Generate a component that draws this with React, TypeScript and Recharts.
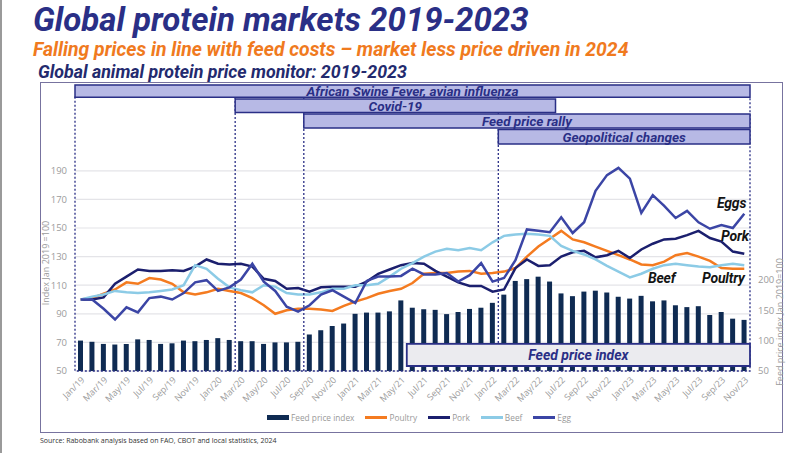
import {
  ComposedChart,
  Bar,
  Line,
  XAxis,
  YAxis,
  CartesianGrid,
  ReferenceArea,
  ReferenceLine,
  Legend,
} from 'recharts';

const months = [
  'Jan/19', 'Feb/19', 'Mar/19', 'Apr/19', 'May/19', 'Jun/19', 'Jul/19', 'Aug/19', 'Sep/19', 'Oct/19', 'Nov/19', 'Dec/19',
  'Jan/20', 'Feb/20', 'Mar/20', 'Apr/20', 'May/20', 'Jun/20', 'Jul/20', 'Aug/20', 'Sep/20', 'Oct/20', 'Nov/20', 'Dec/20',
  'Jan/21', 'Feb/21', 'Mar/21', 'Apr/21', 'May/21', 'Jun/21', 'Jul/21', 'Aug/21', 'Sep/21', 'Oct/21', 'Nov/21', 'Dec/21',
  'Jan/22', 'Feb/22', 'Mar/22', 'Apr/22', 'May/22', 'Jun/22', 'Jul/22', 'Aug/22', 'Sep/22', 'Oct/22', 'Nov/22', 'Dec/22',
  'Jan/23', 'Feb/23', 'Mar/23', 'Apr/23', 'May/23', 'Jun/23', 'Jul/23', 'Aug/23', 'Sep/23', 'Oct/23', 'Nov/23',
];

// feed price index (right axis)
const feedIndex = [
  100, 98, 94.5, 93.5, 94.5, 102, 101, 94.5, 95.5, 100, 99, 101,
  104, 101, 99, 99, 94.5, 97, 97, 98, 110, 117, 124, 128,
  144, 146, 146, 148, 166, 154, 151.5, 150.5, 143.5, 147, 152, 154,
  162, 175.5, 198, 201, 205, 197, 177.5, 173, 180.5, 182, 179, 172,
  169, 173.5, 164.5, 166, 158, 155, 156.5, 142, 147, 136, 134,
];

const poultry = [
  100, 101, 104, 107, 112, 111, 115, 114, 111, 105, 103.5, 105,
  107.5, 106, 104.5, 101, 96, 90, 92.5, 93.5, 93.5, 93, 92, 95.5,
  98.5, 101, 104, 106, 107.5, 111.5, 118, 118.5, 118.5, 119.5, 120, 118,
  118.5, 119.5, 122, 130, 137, 142.5, 148, 142, 140, 137, 134, 131,
  128, 124.5, 124, 126.5, 131, 132.5, 130, 127, 122, 121.5, 121.5,
];

const pork = [
  100, 100, 101.5, 111, 116, 121, 120, 120, 120.5, 120, 123, 128,
  125, 124.5, 125, 123, 114.5, 113, 107.5, 108, 105.5, 108.5, 109, 109,
  109, 112.5, 118, 121, 124, 125.5, 125, 120, 116, 112, 109.5, 109.5,
  105.5, 107, 122, 128, 123.5, 124, 130, 133, 134, 129.5, 131, 134,
  129, 135, 139, 142, 142.5, 145, 148, 143, 140.5, 133.5, 132,
];

const beef = [
  100, 102, 103.5, 106, 105, 104.5, 105, 106, 107, 110, 124, 121.5,
  114.5, 108.5, 106.5, 105, 110, 109, 104.5, 103.5, 103.5, 105, 107.5, 107.5,
  110, 110, 111, 116, 121.5, 125.5, 130, 133.5, 135.5, 134.5, 136, 134.5,
  140, 144.5, 145.5, 146, 145.5, 144.5, 137.5, 134, 131.5, 128, 123.5, 119.5,
  115.5, 118, 121.5, 124, 125, 124, 123, 122.5, 124, 125, 124,
];

const egg = [
  100, 100, 93.5, 86, 94.5, 91, 101, 102, 100, 104.5, 112, 113.5,
  106, 108.5, 114, 125, 112.5, 106, 95, 91.5, 96, 103.5, 106.5, 102,
  97.5, 113, 116, 116, 116.5, 121.5, 117.5, 117.5, 118.5, 112.5, 117, 125.5,
  112.5, 115, 127.5, 149, 148, 147, 157.5, 146.5, 154, 176, 187, 192,
  184.5, 160.5, 173, 165.5, 157, 162, 154, 149.5, 152, 150, 160,
];

const leftTicks = [50, 70, 90, 110, 130, 150, 170, 190];
const rightTicks = [50, 100, 150, 200];

const data = months.map((month, i) => ({
  month,
  feed: feedIndex[i],
  poultry: poultry[i],
  pork: pork[i],
  beef: beef[i],
  egg: egg[i],
}));

const NAVY = '#2a2f86';
const BOX_FILL = '#b7b9e5';
const FONT = "Roboto, 'Open Sans', sans-serif";
const TICK_FONT = "'Open Sans', sans-serif";

const COLORS = {
  feed: '#0f2b52',
  poultry: '#f47b20',
  pork: '#1b1f6e',
  beef: '#8ccbe6',
  egg: '#3b45a5',
};

const legendItems = [
  { name: 'Feed price index', color: COLORS.feed, bar: true },
  { name: 'Poultry', color: COLORS.poultry },
  { name: 'Pork', color: COLORS.pork },
  { name: 'Beef', color: COLORS.beef },
  { name: 'Egg', color: COLORS.egg },
];

const boxLabel = (value: string, size = 13.5) => ({
  value,
  position: 'center' as const,
  fill: NAVY,
  fontSize: size,
  fontWeight: 700,
  fontStyle: 'italic',
  fontFamily: FONT,
});

function ChartLegend() {
  return (
    <div style={{ display: 'flex', gap: 11, paddingLeft: 267, alignItems: 'center' }}>
      {legendItems.map((item) => (
        <div key={item.name} style={{ display: 'flex', alignItems: 'center', gap: 2 }}>
          <span
            style={{
              display: 'inline-block',
              width: 22,
              height: item.bar ? 5 : 2.5,
              background: item.color,
            }}
          />
          <span style={{ fontFamily: TICK_FONT, fontSize: 8.3, color: '#999' }}>{item.name}</span>
        </div>
      ))}
    </div>
  );
}

const lineLabel = (text: string, left: number, top: number) => (
  <div
    style={{
      position: 'absolute',
      left,
      top,
      fontFamily: FONT,
      fontSize: 14,
      fontWeight: 700,
      fontStyle: 'italic',
      color: '#141414',
      lineHeight: 1,
      letterSpacing: -0.2,
    }}
  >
    {text}
  </div>
);

export default function App() {
  return (
    <div style={{ position: 'absolute', left: 0, top: 0, width: 800, height: 453, background: '#fff', overflow: 'hidden' }}>
      <div style={{ position: 'absolute', left: 0, top: 0, width: 2, height: 453, background: '#9a9a9a' }} />
      <div
        style={{
          position: 'absolute', left: 33, top: 3, fontFamily: FONT, fontSize: 33, fontWeight: 700,
          fontStyle: 'italic', color: NAVY, whiteSpace: 'nowrap', lineHeight: 1,
        }}
      >
        Global protein markets 2019-2023
      </div>
      <div
        style={{
          position: 'absolute', left: 33, top: 40, fontFamily: FONT, fontSize: 19.4, fontWeight: 700,
          fontStyle: 'italic', color: '#f07a1e', whiteSpace: 'nowrap', lineHeight: 1,
        }}
      >
        Falling prices in line with feed costs – market less price driven in 2024
      </div>
      <div
        style={{
          position: 'absolute', left: 38, top: 62.5, fontFamily: FONT, fontSize: 17.8, fontWeight: 700,
          fontStyle: 'italic', color: '#232a6e', whiteSpace: 'nowrap', lineHeight: 1,
        }}
      >
        Global animal protein price monitor: 2019-2023
      </div>

      <div
        style={{
          position: 'absolute', left: 40, top: 82, width: 741, height: 349,
          border: '1.5px solid #77739f',
        }}
      />

      <div style={{ position: 'absolute', left: 0, top: 0 }}>
        <ComposedChart
          width={800}
          height={453}
          data={data}
          margin={{ top: 85, right: 20, bottom: 42, left: 40 }}
          barCategoryGap={0}
        >
          <CartesianGrid yAxisId="left" vertical={false} stroke="#e4e4e8" strokeWidth={1.2} />
          <XAxis
            dataKey="month"
            interval={1}
            height={40}
            axisLine={false}
            tickLine={false}
            tickSize={3}
            tick={{ fontSize: 9, fill: '#9b9b9b', fontFamily: TICK_FONT, angle: -45, textAnchor: 'end' }}
          />
          <YAxis
            yAxisId="left"
            width={35}
            domain={[50, 250]}
            ticks={leftTicks}
            axisLine={false}
            tickLine={false}
            tick={{ fontSize: 9.5, fill: '#9b9b9b', fontFamily: TICK_FONT }}
          />
          <YAxis
            yAxisId="right"
            orientation="right"
            width={30}
            domain={[50, 520]}
            ticks={rightTicks}
            axisLine={false}
            tickLine={false}
            tick={{ fontSize: 9.5, fill: '#9b9b9b', fontFamily: TICK_FONT }}
          />
          <Bar yAxisId="right" dataKey="feed" name="Feed price index" fill={COLORS.feed} barSize={5} isAnimationActive={false} />
          <Line yAxisId="left" type="linear" dataKey="poultry" name="Poultry" stroke={COLORS.poultry} strokeWidth={2.5} dot={false} isAnimationActive={false} />
          <Line yAxisId="left" type="linear" dataKey="pork" name="Pork" stroke={COLORS.pork} strokeWidth={2.5} dot={false} isAnimationActive={false} />
          <Line yAxisId="left" type="linear" dataKey="beef" name="Beef" stroke={COLORS.beef} strokeWidth={2.5} dot={false} isAnimationActive={false} />
          <Line yAxisId="left" type="linear" dataKey="egg" name="Egg" stroke={COLORS.egg} strokeWidth={2.5} dot={false} isAnimationActive={false} />

          {/* dashed frame of the event periods */}
          <ReferenceArea
            yAxisId="left" x1="Jan/19" x2="Nov/23" y1={50} y2={241.5}
            fill="none" fillOpacity={0} stroke={NAVY} strokeDasharray="2 2" strokeWidth={1.3}
            ifOverflow="visible" zIndex={1400}
          />
          <ReferenceLine yAxisId="left" x="Mar/20" position="start" stroke={NAVY} strokeDasharray="2 2" strokeWidth={1.3} zIndex={1400} />
          <ReferenceLine yAxisId="left" x="Sep/20" position="start" stroke={NAVY} strokeDasharray="2 2" strokeWidth={1.3} zIndex={1400} />
          <ReferenceLine yAxisId="left" x="Feb/22" position="start" stroke={NAVY} strokeDasharray="2 2" strokeWidth={1.3} zIndex={1400} />

          {/* event boxes */}
          <ReferenceArea
            yAxisId="left" x1="Jan/19" x2="Nov/23" y1={241.5} y2={250}
            fill={BOX_FILL} fillOpacity={1} stroke={NAVY} strokeWidth={1.5} ifOverflow="visible" zIndex={1500}
            label={boxLabel('African Swine Fever, avian influenza')}
          />
          <ReferenceArea
            yAxisId="left" x1="Mar/20" x2="Jun/22" y1={230.8} y2={240.2}
            fill={BOX_FILL} fillOpacity={1} stroke={NAVY} strokeWidth={1.5} ifOverflow="visible" zIndex={1500}
            label={boxLabel('Covid-19')}
          />
          <ReferenceArea
            yAxisId="left" x1="Sep/20" x2="Nov/23" y1={219.9} y2={229.7}
            fill={BOX_FILL} fillOpacity={1} stroke={NAVY} strokeWidth={1.5} ifOverflow="visible" zIndex={1500}
            label={boxLabel('Feed price rally')}
          />
          <ReferenceArea
            yAxisId="left" x1="Feb/22" x2="Nov/23" y1={208.7} y2={218.9}
            fill={BOX_FILL} fillOpacity={1} stroke={NAVY} strokeWidth={1.5} ifOverflow="visible" zIndex={1500}
            label={boxLabel('Geopolitical changes')}
          />
          <ReferenceArea
            yAxisId="left" x1="Jun/21" x2="Nov/23" y1={53.5} y2={68.9}
            fill="#ebebef" fillOpacity={1} stroke={NAVY} strokeWidth={1.8} ifOverflow="visible" zIndex={1500}
            label={boxLabel('Feed price index', 14)}
          />

          <Legend
            layout="horizontal"
            verticalAlign="middle"
            align="center"
            content={() => <ChartLegend />}
            wrapperStyle={{ position: 'absolute', top: 412, left: 0, width: 800 }}
          />
        </ComposedChart>
      </div>

      {/* axis titles */}
      <div
        style={{
          position: 'absolute', left: 45, top: 263, transform: 'translate(-50%, -50%) rotate(-90deg)',
          fontFamily: TICK_FONT, fontSize: 9, color: '#9b9b9b', whiteSpace: 'nowrap',
        }}
      >
        Index Jan 2019 =100
      </div>
      <div
        style={{
          position: 'absolute', left: 779, top: 322, transform: 'translate(-50%, -50%) rotate(-90deg)',
          fontFamily: TICK_FONT, fontSize: 9, color: '#9b9b9b', whiteSpace: 'nowrap',
        }}
      >
        Feed price index Jan 2019=100
      </div>

      {lineLabel('Eggs', 717, 196)}
      {lineLabel('Pork', 721, 229)}
      {lineLabel('Beef', 648, 271)}
      {lineLabel('Poultry', 702, 271)}

      <div
        style={{
          position: 'absolute', left: 40, top: 436, fontFamily: TICK_FONT, fontSize: 7,
          color: '#333', whiteSpace: 'nowrap',
        }}
      >
        Source: Rabobank analysis based on FAO, CBOT and local statistics, 2024
      </div>
    </div>
  );
}
